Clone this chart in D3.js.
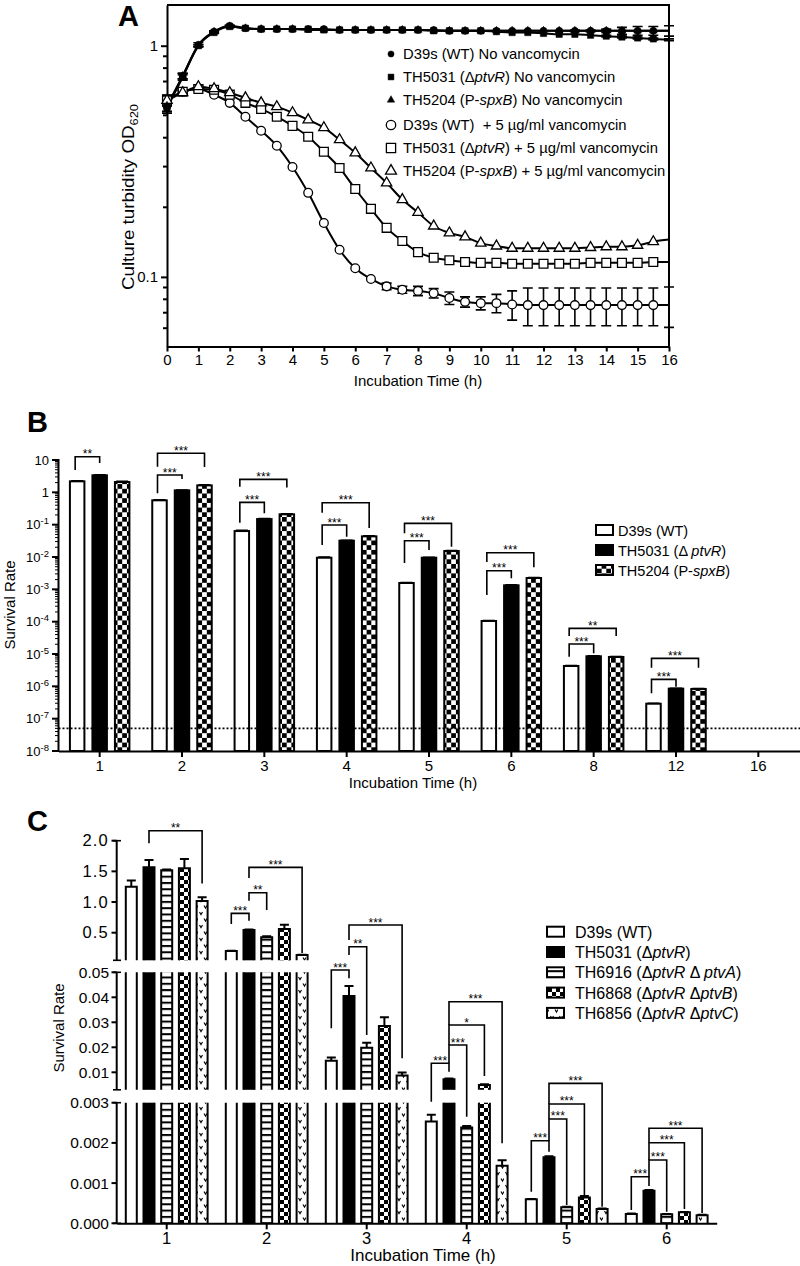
<!DOCTYPE html>
<html><head><meta charset="utf-8">
<script src="https://cdn.jsdelivr.net/npm/d3@7"></script>
<style>body{margin:0;background:#fff}svg{display:block}</style>
</head><body>
<svg id="chart" width="800" height="1266"></svg>
<script>
// ================= DATA =================
// Panel A – culture turbidity OD620 over time
const timeA = [0,0.5,1,1.5,2,2.5,3,3.5,4,4.5,5,5.5,6,6.5,7,7.5,8,8.5,9,9.5,10,10.5,11,11.5,12,12.5,13,13.5,14,14.5,15,15.5,16];
const xTicksA = [0,1,2,3,4,5,6,7,8,9,10,11,12,13,14,15,16];
const yMajorA = [0.1,1];
const yMinorA = [0.06,0.07,0.08,0.09,0.2,0.3,0.4,0.5,0.6,0.7,0.8,0.9];
const odWTnoV  = [0.54,0.74,1.01,1.15,1.22,1.19,1.18,1.18,1.18,1.18,1.18,1.17,1.17,1.17,1.17,1.17,1.17,1.17,1.16,1.16,1.16,1.16,1.16,1.16,1.16,1.16,1.16,1.16,1.16,1.16,1.16,1.16,1.16];
const sdWTnoV  = [0.03,0.02,0.02,0.01,0.01,0,0,0,0,0,0,0,0,0,0,0,0,0,0,0,0,0,0,0,0,0,0.01,0.01,0.02,0.04,0.05,0.05,0.06];
const odRnoV   = [0.54,0.73,1.0,1.14,1.21,1.19,1.18,1.18,1.18,1.18,1.17,1.17,1.17,1.17,1.17,1.17,1.17,1.16,1.16,1.16,1.16,1.15,1.14,1.14,1.13,1.12,1.12,1.11,1.10,1.09,1.08,1.07,1.06];
const sdRnoV   = [0.03,0.02,0.01,0.01,0.01,0,0,0,0,0,0,0,0,0,0,0,0,0,0,0,0,0,0,0,0,0,0,0,0.01,0.01,0.01,0.01,0.01];
const odSnoV   = [0.55,0.74,1.0,1.15,1.21,1.19,1.18,1.18,1.18,1.17,1.17,1.17,1.17,1.17,1.17,1.17,1.17,1.16,1.16,1.16,1.16,1.16,1.16,1.16,1.16,1.16,1.16,1.16,1.16,1.16,1.16,1.16,1.16];
const sdSnoV   = [0.03,0.02,0.01,0.01,0,0,0,0,0,0,0,0,0,0,0,0,0,0,0,0,0,0,0,0,0,0,0,0,0,0,0,0,0];
const odWTvan  = [0.58,0.632,0.65,0.614,0.566,0.493,0.429,0.369,0.299,0.231,0.171,0.131,0.109,0.098,0.091,0.088,0.087,0.085,0.081,0.078,0.077,0.077,0.076,0.0755,0.0755,0.0755,0.0755,0.0755,0.0755,0.0755,0.0755,0.0755,0.0755];
const sdWTvan  = [0.03,0.01,0.01,0,0,0,0,0,0,0,0,0,0,0,0.003,0.003,0.004,0.004,0.005,0.004,0.005,0.007,0.011,0.014,0.014,0.014,0.014,0.014,0.014,0.014,0.014,0.014,0.015];
const odRvan   = [0.58,0.632,0.65,0.645,0.614,0.566,0.533,0.493,0.45,0.404,0.348,0.296,0.24,0.197,0.163,0.143,0.128,0.121,0.118,0.116,0.115,0.115,0.114,0.114,0.114,0.114,0.114,0.115,0.115,0.115,0.115,0.116,0.116];
const sdRvan   = [0.03,0.01,0.01,0,0,0,0,0,0,0,0,0,0,0,0,0,0,0,0,0,0,0,0,0,0,0,0,0,0,0,0,0,0];
const odSvan   = [0.58,0.626,0.665,0.652,0.626,0.595,0.566,0.545,0.513,0.478,0.442,0.392,0.344,0.296,0.255,0.216,0.19,0.166,0.155,0.149,0.14,0.136,0.133,0.133,0.133,0.133,0.133,0.134,0.135,0.135,0.137,0.142,0.145];
const sdSvan   = [0.03,0.01,0.01,0,0,0,0,0,0,0,0,0,0,0,0,0,0,0,0,0,0,0,0,0,0,0,0,0,0,0,0,0,0];
const legendA = ["D39s (WT) No vancomycin","TH5031 (ΔptvR) No vancomycin","TH5204 (P-spxB) No vancomycin","D39s (WT)\u00a0 + 5 µg/ml vancomycin","TH5031 (ΔptvR) + 5 µg/ml vancomycin","TH5204 (P-spxB) + 5 µg/ml vancomycin"];

// Panel B – survival rate (log)
const catsB = ["1","2","3","4","5","6","8","12","16"];
const namesB = ["D39s (WT)","TH5031 (Δ ptvR)","TH5204 (P-spxB)"];
const survWT_B = [2.19,0.566,0.0635,0.0095,0.00157,1.05e-4,4.26e-6,2.9e-7,null];
const survR_B  = [3.36,1.15,0.149,0.032,0.0095,0.00133,8.5e-6,8.5e-7,null];
const survS_B  = [2.08,1.64,0.209,0.0435,0.0153,0.00224,8.1e-6,8.3e-7,null];
const errWT_B  = [0.1,0.02,0.004,0.0004,0.00005,3e-6,1e-7,1e-8,null];
const errR_B   = [0.1,0.03,0.005,0.001,0.0003,4e-5,3e-7,2e-8,null];
const errS_B   = [0.1,0.06,0.008,0.0015,0.0005,6e-5,3e-7,2e-8,null];
const yTicksB  = [1e-8,1e-7,1e-6,1e-5,1e-4,1e-3,1e-2,1e-1,1,10];
const detectionB = 5e-8;
const bracketsB = [
  {g:"1",a:0,b:1,t:"**",top:12.6,l:4.9,r:8.05},
  {g:"2",a:0,b:2,t:"***",top:16.1,l:6.2,r:6.1},
  {g:"2",a:0,b:1,t:"***",top:3.43,l:0.93,r:2.6},
  {g:"3",a:0,b:2,t:"***",top:2.52,l:1.49,r:1.4},
  {g:"3",a:0,b:1,t:"***",top:0.49,l:0.115,r:0.224},
  {g:"4",a:0,b:2,t:"***",top:0.477,l:0.234,r:0.0787},
  {g:"4",a:0,b:1,t:"***",top:0.0974,l:0.0234,r:0.0424},
  {g:"5",a:0,b:2,t:"***",top:0.11,l:0.054,r:0.0208},
  {g:"5",a:0,b:1,t:"***",top:0.0318,l:0.0065,r:0.0164},
  {g:"6",a:0,b:2,t:"***",top:0.0136,l:0.007,r:0.0048},
  {g:"6",a:0,b:1,t:"***",top:0.00376,l:0.000665,r:0.0022},
  {g:"8",a:0,b:2,t:"**",top:6.2e-5,l:3.6e-5,r:3.6e-5},
  {g:"8",a:0,b:1,t:"***",top:2.03e-5,l:8.2e-6,r:1.05e-5},
  {g:"12",a:0,b:2,t:"***",top:7.3e-6,l:3.76e-6,r:3.76e-6},
  {g:"12",a:0,b:1,t:"***",top:1.64e-6,l:6.07e-7,r:9.7e-7}
];

// Panel C – survival rate (broken linear axis)
const catsC = ["1","2","3","4","5","6"];
const namesC = ["D39s (WT)","TH5031 (ΔptvR)","TH6916 (ΔptvR Δ ptvA)","TH6868 (ΔptvR ΔptvB)","TH6856 (ΔptvR ΔptvC)"];
const survWT_C = [1.25,0.20,0.0146,0.00253,0.000597,0.000231];
const survR_C  = [1.566,0.543,0.0405,0.0072,0.00164,0.00081];
const survA_C  = [1.52,0.424,0.0198,0.00238,0.0004,0.000224];
const survB_C  = [1.55,0.56,0.0285,0.0049,0.00064,0.000274];
const survCc_C = [1.016,0.135,0.0087,0.00143,0.000356,0.0002];
const sdWT_C = [0.10,0.006,0.0013,0.00017,0.00001,0.00001];
const sdR_C  = [0.12,0.008,0.004,0.0003,0.00003,0.00002];
const sdA_C  = [0.01,0.02,0.002,0.00004,0.00001,0.00001];
const sdB_C  = [0.15,0.07,0.0035,0.0003,0.00004,0.00001];
const sdCc_C = [0.06,0.004,0.0012,0.00014,0.00001,0.00001];
const yTicksC_top = [0.5,1.0,1.5,2.0];
const yTicksC_mid = [0.01,0.02,0.03,0.04,0.05];
const yTicksC_low = [0,0.001,0.002,0.003];
const bracketsC = [
  {g:"1",a:1,b:4,t:"**",top:[0,2.162],l:[0,1.957],r:[0,1.304]},
  {g:"2",a:0,b:1,t:"***",top:[0,0.815],l:[0,0.641],r:[0,0.695]},
  {g:"2",a:1,b:2,t:"**",top:[0,1.151],l:[0,1.021],r:[0,0.869]},
  {g:"2",a:1,b:4,t:"***",top:[0,1.565],l:[0,1.391],r:[0,0.168]},
  {g:"3",a:0,b:1,t:"***",top:[1,0.0509],l:[1,0.0276],r:[1,0.0476]},
  {g:"3",a:1,b:2,t:"**",top:[1,0.0602],l:[1,0.0569],r:[1,0.0249]},
  {g:"3",a:1,b:4,t:"***",top:[1,0.0689],l:[1,0.0629],r:[1,0.0156]},
  {g:"4",a:0,b:1,t:"***",top:[1,0.0136],l:[2,0.003025],r:[1,0.01024]},
  {g:"4",a:1,b:2,t:"***",top:[1,0.0209],l:[1,0.0136],r:[2,0.00265]},
  {g:"4",a:1,b:3,t:"*",top:[1,0.0289],l:[1,0.0209],r:[1,0.0085]},
  {g:"4",a:1,b:4,t:"***",top:[1,0.0382],l:[1,0.0289],r:[2,0.00199]},
  {g:"5",a:0,b:1,t:"***",top:[2,0.002055],l:[2,0.000786],r:[2,0.001781]},
  {g:"5",a:1,b:2,t:"***",top:[2,0.002595],l:[2,0.002055],r:[2,0.000455]},
  {g:"5",a:1,b:3,t:"***",top:[2,0.002968],l:[2,0.002595],r:[2,0.000704]},
  {g:"5",a:1,b:4,t:"***",top:[1,0.00556],l:[2,0.002968],r:[2,0.000413]},
  {g:"6",a:0,b:1,t:"***",top:[2,0.001159],l:[2,0.000331],r:[2,0.000928]},
  {g:"6",a:1,b:2,t:"***",top:[2,0.001575],l:[2,0.001159],r:[2,0.000289]},
  {g:"6",a:1,b:3,t:"***",top:[2,0.002005],l:[2,0.001575],r:[2,0.000356]},
  {g:"6",a:1,b:4,t:"***",top:[2,0.002363],l:[2,0.002005],r:[2,0.000256]}
];

// ================= DRAWING =================
const FONT = '"Liberation Sans", Arial, Helvetica, sans-serif';
const svg = d3.select("#chart").attr("font-family", FONT);
svg.append("rect").attr("width",800).attr("height",1266).attr("fill","#fff");
const defs = svg.append("defs");
function pattern(id,w,h,build){
  const p = defs.append("pattern").attr("id",id).attr("patternUnits","userSpaceOnUse").attr("width",w).attr("height",h);
  p.append("rect").attr("width",w).attr("height",h).attr("fill","#fff");
  build(p);
}
pattern("checkB",9.4,9.4,p=>{p.append("rect").attr("width",4.7).attr("height",4.7);p.append("rect").attr("x",4.7).attr("y",4.7).attr("width",4.7).attr("height",4.7);});
pattern("checkC",8,8,p=>{p.append("rect").attr("width",4).attr("height",4);p.append("rect").attr("x",4).attr("y",4).attr("width",4).attr("height",4);});
pattern("stripes",6.3,6.3,p=>p.append("rect").attr("width",6.3).attr("height",2));
pattern("vdots",9,13,p=>p.append("path").attr("d","M1.5,2 L3,4.6 L4.5,2 M6,8.5 L7.5,11.1 L9,8.5").attr("fill","none").attr("stroke","#000").attr("stroke-width",1.1));

function richText(sel, str){
  const parts = str.split(/(ptv[A-Z]|spxB)/);
  parts.forEach(p=>{ if(!p) return; const t = sel.append("tspan").text(p); if(/^(ptv[A-Z]|spxB)$/.test(p)) t.attr("font-style","italic"); });
}
function styleAxis(g, fs){
  g.attr("font-family",FONT).attr("font-size",fs);
  g.select(".domain").attr("stroke-width",2);
  g.selectAll(".tick line").attr("stroke-width",2);
  g.selectAll(".tick text").attr("fill","#000");
}
function bracket(g,x1,x2,yt,yl,yr,label){
  g.append("path").attr("d",`M${x1},${yl}V${yt}H${x2}V${yr}`).attr("fill","none").attr("stroke","#000").attr("stroke-width",1.6);
  g.append("text").attr("x",(x1+x2)/2).attr("y",yt+1.5).attr("text-anchor","middle").attr("font-size",12).text(label);
}

// ---------- Panel A ----------
const gA = svg.append("g");
const xA = d3.scaleLinear().domain([0,16]).range([167,669]);
const yA = d3.scaleLog().domain([0.05,1.5]).range([346.5,5]);
gA.append("text").attr("x",118).attr("y",26).attr("font-size",29).attr("font-weight","bold").text("A");
gA.append("path").attr("d",`M${xA(0)},${yA(1.5)}H${xA(16)}V${yA(0.05)}`).attr("fill","none").attr("stroke","#000").attr("stroke-width",2);
gA.append("g").attr("transform",`translate(0,${yA(0.05)})`)
  .call(d3.axisBottom(xA).tickValues(xTicksA).tickSize(5).tickSizeOuter(0).tickFormat(d3.format("d")))
  .call(g=>styleAxis(g,15));
gA.append("g").attr("transform",`translate(${xA(0)},0)`)
  .call(d3.axisLeft(yA).tickValues(yMajorA).tickSize(6).tickSizeOuter(0).tickFormat(d=>d>=1?"1":"0.1"))
  .call(g=>styleAxis(g,15));
gA.selectAll(".minorA").data(yMinorA).join("line").attr("class","minorA")
  .attr("x1",xA(0)-4).attr("x2",xA(0)).attr("y1",d=>yA(d)).attr("y2",d=>yA(d)).attr("stroke","#000").attr("stroke-width",2);
gA.append("text").attr("x",xA(8)).attr("y",386).attr("text-anchor","middle").attr("font-size",15).text("Incubation Time (h)");
const ylab = gA.append("text").attr("transform","translate(134,197) rotate(-90)").attr("text-anchor","middle").attr("font-size",16)
  .attr("textLength",186).attr("lengthAdjust","spacingAndGlyphs");
ylab.append("tspan").text("Culture turbidity OD");
ylab.append("tspan").attr("font-size",11).attr("dy",4).text("620");

const seriesA = [
  {v:odWTvan, sd:sdWTvan, sym:d3.symbolCircle, size:60, fill:"#fff"},
  {v:odRvan,  sd:sdRvan,  sym:d3.symbolSquare, size:78, fill:"#fff"},
  {v:odSvan,  sd:sdSvan,  sym:d3.symbolTriangle, size:46, fill:"#fff"},
  {v:odSnoV,  sd:sdSnoV,  sym:d3.symbolTriangle, size:26, fill:"#000"},
  {v:odRnoV,  sd:sdRnoV,  sym:d3.symbolSquare, size:40, fill:"#000"},
  {v:odWTnoV, sd:sdWTnoV, sym:d3.symbolCircle, size:40, fill:"#000"}
];
const lineA = d3.line().x(d=>xA(d.t)).y(d=>yA(d.v)).curve(d3.curveMonotoneX);
seriesA.forEach(s=>{
  const pts = timeA.map((t,i)=>({t, v:s.v[i], sd:s.sd[i]}));
  const eb = pts.filter(p=>p.sd>0);
  gA.append("g").selectAll("path").data(eb).join("path")
    .attr("d",p=>{const x=xA(p.t), y1=yA(p.v+p.sd), y2=yA(Math.max(p.v-p.sd,0.051));
      return `M${x},${y1}V${y2}M${x-5},${y1}H${x+5}M${x-5},${y2}H${x+5}`;})
    .attr("stroke","#000").attr("stroke-width",1.6).attr("fill","none");
  gA.append("path").datum(pts).attr("d",lineA).attr("fill","none").attr("stroke","#000").attr("stroke-width",2);
});
seriesA.forEach(s=>{
  const pts = timeA.map((t,i)=>({t, v:s.v[i]})).filter(p=>p.t<16);
  gA.append("g").selectAll("path").data(pts).join("path")
    .attr("transform",p=>`translate(${xA(p.t)},${yA(p.v)})`)
    .attr("d",d3.symbol().type(s.sym).size(s.size)())
    .attr("fill",s.fill).attr("stroke","#000").attr("stroke-width",s.fill==="#fff"?1.3:0.5);
});
// legend A
const legSym = [
  {sym:d3.symbolCircle,size:30,fill:"#000"},{sym:d3.symbolSquare,size:34,fill:"#000"},{sym:d3.symbolTriangle,size:24,fill:"#000"},
  {sym:d3.symbolCircle,size:70,fill:"#fff"},{sym:d3.symbolSquare,size:85,fill:"#fff"},{sym:d3.symbolTriangle,size:52,fill:"#fff"}
];
legendA.forEach((txt,i)=>{
  const yb = 59 + i*23 + (i>=3?2:0);
  gA.append("path").attr("transform",`translate(391,${yb-5})`).attr("d",d3.symbol().type(legSym[i].sym).size(legSym[i].size)())
    .attr("fill",legSym[i].fill).attr("stroke","#000").attr("stroke-width",legSym[i].fill==="#fff"?1.3:0.5);
  const t = gA.append("text").attr("x",403).attr("y",yb).attr("font-size",14.8);
  richText(t, txt);
});

// ---------- Panel B ----------
const gB = svg.append("g");
const xB = d3.scaleBand().domain(catsB).range([58.5,799.5]);
const subB = d3.scaleBand().domain([0,1,2]).range([-29.75,29.75]).paddingInner(0.356);
const yB = d3.scaleLog().domain([1e-8,10]).range([751,460]);
const fillsB = ["#fff","#000","url(#checkB)"];
const seriesB = [{v:survWT_B,e:errWT_B},{v:survR_B,e:errR_B},{v:survS_B,e:errS_B}];
gB.append("text").attr("x",27).attr("y",432).attr("font-size",29).attr("font-weight","bold").text("B");
const cx = (x,c)=>x(c)+x.bandwidth()/2;
seriesB.forEach((s,i)=>{
  catsB.forEach((c,j)=>{
    const v = s.v[j]; if(v==null) return;
    const x0 = cx(xB,c)+subB(i), w = subB.bandwidth();
    gB.append("rect").attr("x",x0).attr("y",yB(v)).attr("width",w).attr("height",yB(1e-8)-yB(v))
      .attr("fill",fillsB[i]).attr("stroke","#000").attr("stroke-width",2);
    const xm = x0+w/2, ye = yB(v+s.e[j]);
    gB.append("path").attr("d",`M${xm},${yB(v)}V${ye}M${xm-6},${ye}H${xm+6}`).attr("stroke","#000").attr("stroke-width",1.6);
  });
});
gB.append("line").attr("x1",58.5).attr("x2",800).attr("y1",yB(detectionB)).attr("y2",yB(detectionB))
  .attr("stroke","#000").attr("stroke-width",1.6).attr("stroke-dasharray","2,2");
gB.append("g").attr("transform",`translate(0,${yB(1e-8)})`)
  .call(d3.axisBottom(xB).tickSize(6).tickSizeOuter(0)).call(g=>styleAxis(g,15));
// y axis B
gB.append("line").attr("x1",58.5).attr("x2",58.5).attr("y1",yB(1e-8)+1).attr("y2",yB(10)-1).attr("stroke","#000").attr("stroke-width",2);
yTicksB.forEach(d=>{
  gB.append("line").attr("x1",52).attr("x2",58.5).attr("y1",yB(d)).attr("y2",yB(d)).attr("stroke","#000").attr("stroke-width",2);
  const e = Math.round(Math.log10(d));
  const t = gB.append("text").attr("x",49).attr("y",yB(d)+4.5).attr("text-anchor","end").attr("font-size",13);
  if(e===1) t.text("10"); else if(e===0) t.text("1");
  else { t.append("tspan").text("10"); t.append("tspan").attr("dy",-5).attr("font-size",9.5).text(String(e)); }
  if(e<1){ [2,3,4,5,6,7,8,9].forEach(m=>{ const yy=yB(d*m);
    gB.append("line").attr("x1",55).attr("x2",58.5).attr("y1",yy).attr("y2",yy).attr("stroke","#000").attr("stroke-width",1);});}
});
bracketsB.forEach(b=>{
  const xa = cx(xB,b.g)+subB(b.a)+subB.bandwidth()/2-2, xb = cx(xB,b.g)+subB(b.b)+subB.bandwidth()/2;
  bracket(gB,xa,xb,yB(b.top),yB(b.l),yB(b.r),b.t);
});
gB.append("text").attr("transform","translate(15,605) rotate(-90)").attr("text-anchor","middle").attr("font-size",15).text("Survival Rate");
gB.append("text").attr("x",413).attr("y",788).attr("text-anchor","middle").attr("font-size",15).text("Incubation Time (h)");
namesB.forEach((n,i)=>{
  const yc = 530 + i*20;
  gB.append("rect").attr("x",596).attr("y",yc-5).attr("width",17).attr("height",10).attr("fill",fillsB[i]).attr("stroke","#000").attr("stroke-width",2);
  const t = gB.append("text").attr("x",618).attr("y",yc+5.5).attr("font-size",14.5);
  richText(t,n);
});

// ---------- Panel C ----------
const gC = svg.append("g");
gC.append("text").attr("x",27).attr("y",831).attr("font-size",29).attr("font-weight","bold").text("C");
const xC = d3.scaleBand().domain(catsC).range([116.7,716.7]);
const subC = d3.scaleBand().domain([0,1,2,3,4]).range([-40.9,40.9]).paddingInner(0.379);
const segC = [
  {lo:0.05, hi:2.0, y:d3.scaleLinear().domain([0.05,2.0]).range([960.3,840.7]), ticks:yTicksC_top, fmt:d3.format(".1f"), big:true},
  {lo:0.003,hi:0.05,y:d3.scaleLinear().domain([0.003,0.05]).range([1089.8,972.3]), ticks:yTicksC_mid, fmt:d3.format(".2f")},
  {lo:0,    hi:0.003,y:d3.scaleLinear().domain([0,0.003]).range([1223.3,1102.7]), ticks:yTicksC_low, fmt:d3.format(".3f")}
];
const fillsC = ["#fff","#000","url(#stripes)","url(#checkC)","url(#vdots)"];
const seriesC = [{v:survWT_C,sd:sdWT_C},{v:survR_C,sd:sdR_C},{v:survA_C,sd:sdA_C},{v:survB_C,sd:sdB_C},{v:survCc_C,sd:sdCc_C}];
seriesC.forEach((s,i)=>{
  catsC.forEach((c,j)=>{
    const v = s.v[j], x0 = cx(xC,c)+subC(i), w = subC.bandwidth();
    segC.forEach(seg=>{
      if(v<=seg.lo) return;
      const top = Math.min(v,seg.hi), yb = seg.y(seg.lo), yt = seg.y(top);
      gC.append("rect").attr("x",x0).attr("y",yt).attr("width",w).attr("height",yb-yt).attr("fill",fillsC[i]);
      const closed = v<=seg.hi;
      gC.append("path").attr("d", closed ? `M${x0},${yb}V${yt}H${x0+w}V${yb}` : `M${x0},${yb}V${yt}M${x0+w},${yt}V${yb}`)
        .attr("fill","none").attr("stroke","#000").attr("stroke-width",2);
      if(closed && s.sd[j]>0){
        const xm = x0+w/2, ye = seg.y(v+s.sd[j]);
        gC.append("path").attr("d",`M${xm},${yt}V${ye}M${xm-4.5},${ye}H${xm+4.5}`).attr("stroke","#000").attr("stroke-width",2);
      }
    });
  });
});
// y axis C (three segments)
segC.forEach(seg=>{
  const ya = seg.y(seg.lo), yz = seg.y(seg.hi);
  gC.append("line").attr("x1",116.7).attr("x2",116.7).attr("y1",ya).attr("y2",yz).attr("stroke","#000").attr("stroke-width",2);
  [ya,yz].forEach(yy=>gC.append("line").attr("x1",113).attr("x2",121).attr("y1",yy).attr("y2",yy).attr("stroke","#000").attr("stroke-width",1.6));
  seg.ticks.forEach(d=>{
    gC.append("line").attr("x1",111.5).attr("x2",116.7).attr("y1",seg.y(d)).attr("y2",seg.y(d)).attr("stroke","#000").attr("stroke-width",2);
    gC.append("text").attr("x",109).attr("y",seg.y(d)+5.5).attr("text-anchor","end").attr("font-size",seg.big?16.5:15.5)
      .attr("letter-spacing",seg.big?"1.2":null).text(seg.fmt(d));
  });
});
gC.append("g").attr("transform","translate(0,1223.3)")
  .call(d3.axisBottom(xC).tickSize(6).tickSizeOuter(0)).call(g=>styleAxis(g,16.5));
bracketsC.forEach(b=>{
  const xa = cx(xC,b.g)+subC(b.a)+subC.bandwidth()/2, xb = cx(xC,b.g)+subC(b.b)+subC.bandwidth()/2;
  bracket(gC,xa,xb,segC[b.top[0]].y(b.top[1]),segC[b.l[0]].y(b.l[1]),segC[b.r[0]].y(b.r[1]),b.t);
});
gC.append("text").attr("transform","translate(64,1028) rotate(-90)").attr("text-anchor","middle").attr("font-size",15).text("Survival Rate");
gC.append("text").attr("x",423).attr("y",1261).attr("text-anchor","middle").attr("font-size",17).text("Incubation Time (h)");
namesC.forEach((n,i)=>{
  const yc = 931.7 + i*20.3;
  gC.append("rect").attr("x",547).attr("y",yc-5).attr("width",17).attr("height",10).attr("fill",fillsC[i]).attr("stroke","#000").attr("stroke-width",2);
  const t = gC.append("text").attr("x",575).attr("y",yc+6).attr("font-size",16);
  richText(t,n);
});
</script>
</body></html>
